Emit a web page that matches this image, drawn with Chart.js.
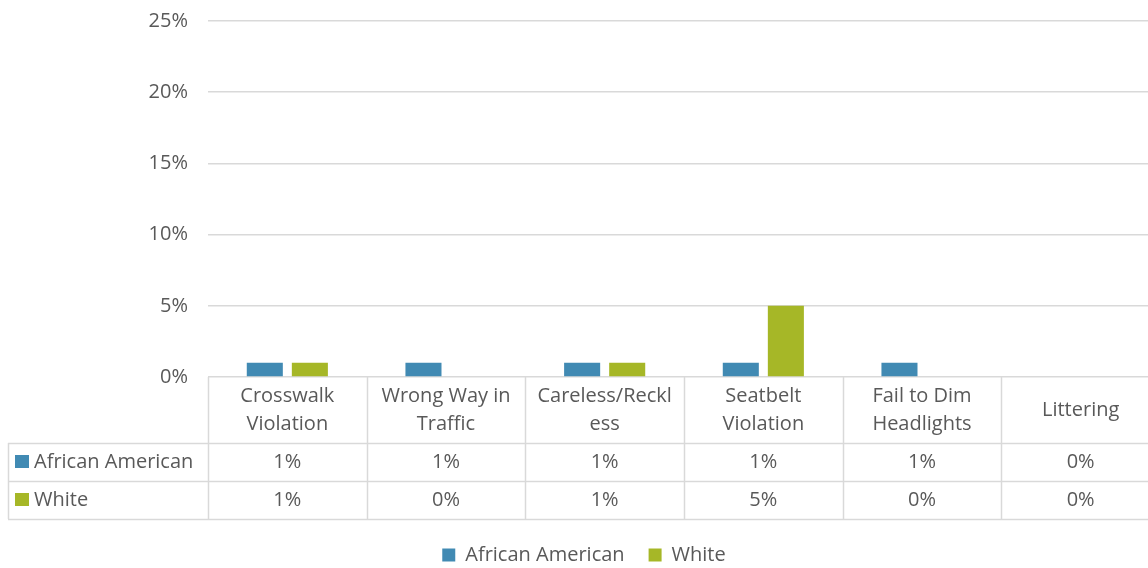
<!DOCTYPE html>
<html>
<head>
<meta charset="utf-8">
<script src="https://cdn.jsdelivr.net/npm/chart.js@4.4.0/dist/chart.umd.min.js"></script>
<style>
  html, body { margin: 0; padding: 0; background: #fff; overflow: hidden; }
  #wrap { width: 1162px; height: 568px; }
</style>
</head>
<body>
<div id="wrap"><canvas id="chart" width="1162" height="568"></canvas></div>
<script>
// categories (as shown in the data table, already wrapped)
const categories = [
    ['Crosswalk', 'Violation'],
    ['Wrong Way in', 'Traffic'],
    ['Careless/Reckl', 'ess'],
    ['Seatbelt', 'Violation'],
    ['Fail to Dim', 'Headlights'],
    ['Littering']
];
const seriesNames = ['African American', 'White'];
const africanAmerican = [1, 1, 1, 1, 1, 0];
const white = [1, 0, 1, 5, 0, 0];
const yMax = 25;
const yStep = 5;

const textColor = '#595959';
const lineColor = '#d9d9d9';
const fontFamily = '"Open Sans", "Noto Sans", sans-serif';
const fontSize = 20;

// draws the data table under the plot, using the x scale for columns
const dataTablePlugin = {
    id: 'dataTable',
    afterDraw(chart) {
        const ctx = chart.ctx;
        const x = chart.scales.x;
        const area = chart.chartArea;
        const top = area.bottom;
        const headerH = 66;
        const rowH = 38;
        const leftEdge = 8;
        const colW = x.width / categories.length;
        const rows = [africanAmerican, white];
        const colors = chart.data.datasets.map(d => d.backgroundColor);
        const bottom = top + headerH + rowH * rows.length;

        ctx.save();
        ctx.strokeStyle = lineColor;
        ctx.lineWidth = 1.5;

        // vertical lines
        for (let i = 0; i <= categories.length; i++) {
            const lx = Math.round(x.left + colW * i) + 0.5;
            ctx.beginPath();
            ctx.moveTo(lx, top);
            ctx.lineTo(lx, bottom);
            ctx.stroke();
        }
        ctx.beginPath();
        ctx.moveTo(leftEdge + 0.5, top + headerH);
        ctx.lineTo(leftEdge + 0.5, bottom);
        ctx.stroke();

        // horizontal lines
        for (let r = 0; r <= rows.length; r++) {
            const ly = Math.round(top + headerH + rowH * r) + 0.5;
            ctx.beginPath();
            ctx.moveTo(leftEdge, ly);
            ctx.lineTo(x.right, ly);
            ctx.stroke();
        }

        ctx.fillStyle = textColor;
        ctx.font = fontSize + 'px ' + fontFamily;
        ctx.textAlign = 'center';
        ctx.textBaseline = 'middle';

        // category headers
        categories.forEach((lbl, i) => {
            const cx = x.getPixelForValue(i);
            const lineH = 28;
            const startY = top + headerH / 2 - (lbl.length - 1) * lineH / 2;
            lbl.forEach((t, k) => ctx.fillText(t, cx, startY + k * lineH));
        });

        // value rows
        rows.forEach((vals, r) => {
            const cy = top + headerH + rowH * r + rowH / 2;
            vals.forEach((v, i) => {
                ctx.fillStyle = textColor;
                ctx.textAlign = 'center';
                ctx.fillText(v + '%', x.getPixelForValue(i), cy);
            });
            ctx.fillStyle = colors[r];
            ctx.fillRect(15, Math.round(cy - 7), 14, 13);
            ctx.fillStyle = textColor;
            ctx.textAlign = 'left';
            ctx.fillText(seriesNames[r], 34, cy);
        });
        ctx.restore();
    }
};

new Chart(document.getElementById('chart'), {
    type: 'bar',
    data: {
        labels: categories,
        datasets: [
            {
                label: seriesNames[0],
                data: africanAmerican,
                backgroundColor: '#418AB3',
                categoryPercentage: 0.568,
                barPercentage: 0.8
            },
            {
                label: seriesNames[1],
                data: white,
                backgroundColor: '#A6B727',
                categoryPercentage: 0.568,
                barPercentage: 0.8
            }
        ]
    },
    options: {
        responsive: false,
        animation: false,
        // negative bottom padding pushes the legend a bit lower, like the original
        layout: { padding: { left: 8, right: 2, top: 21, bottom: -7 } },
        plugins: {
            tooltip: { enabled: false },
            legend: {
                position: 'bottom',
                labels: {
                    boxWidth: 13,
                    boxHeight: 13,
                    padding: 24,
                    color: textColor,
                    font: { family: fontFamily, size: fontSize }
                }
            }
        },
        scales: {
            x: {
                ticks: { display: false },
                grid: { display: false },
                border: { display: false },
                afterFit(scale) { scale.height = 144; }
            },
            y: {
                min: 0,
                max: yMax,
                ticks: {
                    stepSize: yStep,
                    padding: 0,
                    color: textColor,
                    font: { family: fontFamily, size: fontSize },
                    callback: v => v + '%'
                },
                grid: {
                    color: lineColor,
                    lineWidth: 1.5,
                    drawTicks: true,
                    tickLength: 20,
                    tickColor: 'rgba(0,0,0,0)'
                },
                border: { display: false },
                afterFit(scale) { scale.width = 200; }
            }
        }
    },
    plugins: [dataTablePlugin]
});
</script>
</body>
</html>
